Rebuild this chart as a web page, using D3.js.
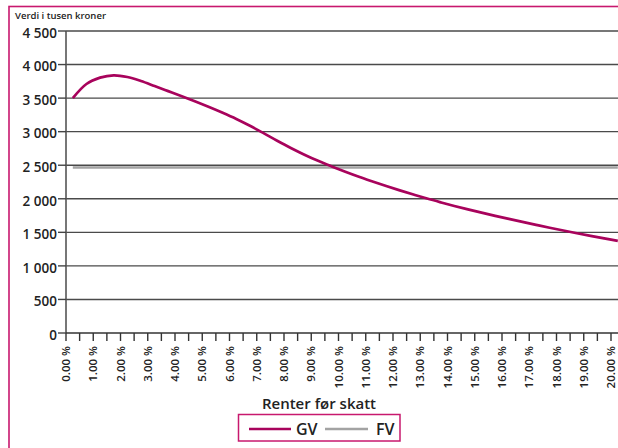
<!DOCTYPE html>
<html>
<head>
<meta charset="utf-8">
<script src="https://cdn.jsdelivr.net/npm/d3@7"></script>
<style>
  html, body { margin: 0; padding: 0; background: #fff; }
  svg { display: block; }
  text { font-family: "Open Sans", "DejaVu Sans", sans-serif; fill: #222; }
</style>
</head>
<body>
<svg id="chart" width="618" height="448"></svg>
<script>
// Interest rate before tax (%), one category per half percent
const rates = d3.range(0, 41).map(i => i * 0.5);

// Value in thousand NOK for each rate
const gvValues = [
  3500, 3710, 3805, 3840, 3815, 3755, 3680, 3604, 3528, 3450,
  3368, 3282, 3190, 3088, 2978, 2865, 2757, 2657, 2565, 2482,
  2403, 2328, 2258, 2190, 2125, 2063, 2003, 1947, 1893, 1842,
  1793, 1746, 1700, 1655, 1611, 1568, 1527, 1487, 1448, 1410,
  1373
];
const fvValues = rates.map(() => 2465);

const yTicks = [0, 500, 1000, 1500, 2000, 2500, 3000, 3500, 4000, 4500];

const seriesNames = ["GV", "FV"];
const seriesColors = ["#a8035c", "#a3a3a3"];

const svg = d3.select("#chart");

const magenta = "#c8186e";
const gridColor = "#4a4a4a";

// outer frame
svg.append("rect")
  .attr("x", 9).attr("y", 6.5)
  .attr("width", 640).attr("height", 480)
  .attr("fill", "none")
  .attr("stroke", magenta)
  .attr("stroke-width", 1.6);

const plotLeft = 66, plotRight = 618, plotTop = 31, plotBottom = 333;

const x = d3.scaleBand()
  .domain(rates)
  .range([plotLeft, plotLeft + rates.length * 13.625])
  .paddingInner(0).paddingOuter(0);

const y = d3.scaleLinear().domain([0, 4500]).range([plotBottom, plotTop]);

const fmt = d3.formatLocale({ decimal: ".", thousands: " ", grouping: [3], currency: ["", ""] }).format(",d");

// horizontal grid
svg.append("g")
  .selectAll("line")
  .data(yTicks.filter(d => d > 0))
  .join("line")
  .attr("x1", plotLeft).attr("x2", plotRight)
  .attr("y1", d => y(d)).attr("y2", d => y(d))
  .attr("stroke", gridColor)
  .attr("stroke-width", 1.4);

// series lines, points centred in their category
const line = d3.line()
  .x((d, i) => x(rates[i]) + x.bandwidth() / 2)
  .y(d => y(d))
  .curve(d3.curveCatmullRom.alpha(0.5));

svg.append("clipPath").attr("id", "plotclip")
  .append("rect").attr("x", plotLeft).attr("y", 0)
  .attr("width", plotRight - plotLeft).attr("height", plotBottom);

svg.append("path")
  .datum(fvValues)
  .attr("d", line)
  .attr("fill", "none")
  .attr("stroke", seriesColors[1])
  .attr("stroke-width", 2.4)
  .attr("clip-path", "url(#plotclip)");

svg.append("path")
  .datum(gvValues)
  .attr("d", line)
  .attr("fill", "none")
  .attr("stroke", seriesColors[0])
  .attr("stroke-width", 2.7)
  .attr("clip-path", "url(#plotclip)");

// y axis
svg.append("line")
  .attr("x1", plotLeft).attr("x2", plotLeft)
  .attr("y1", plotTop).attr("y2", plotBottom)
  .attr("stroke", "#555").attr("stroke-width", 1.6);

const yAxis = svg.append("g");
yAxis.selectAll("line")
  .data(yTicks)
  .join("line")
  .attr("x1", plotLeft - 8).attr("x2", plotLeft)
  .attr("y1", d => y(d)).attr("y2", d => y(d))
  .attr("stroke", "#444").attr("stroke-width", 1.4);
yAxis.selectAll("text")
  .data(yTicks)
  .join("text")
  .attr("x", 57)
  .attr("y", d => y(d) + 2)
  .attr("dy", "0.35em")
  .attr("text-anchor", "end")
  .attr("font-size", 13.5)
  .attr("font-weight", 600)
  .text(d => fmt(d));

// x axis
svg.append("line")
  .attr("x1", plotLeft).attr("x2", plotRight)
  .attr("y1", plotBottom).attr("y2", plotBottom)
  .attr("stroke", "#333").attr("stroke-width", 1.6);

const xAxis = svg.append("g");
xAxis.selectAll("line")
  .data(rates)
  .join("line")
  .attr("x1", d => x(d)).attr("x2", d => x(d))
  .attr("y1", plotBottom).attr("y2", plotBottom + 8)
  .attr("stroke", "#333").attr("stroke-width", 1.4);
xAxis.selectAll("text")
  .data(rates.filter(r => Number.isInteger(r)))
  .join("text")
  .attr("transform", d => `translate(${x(d)},346) rotate(-90)`)
  .attr("dy", "0.35em")
  .attr("text-anchor", "end")
  .attr("font-size", 11.5)
  .attr("font-weight", 600)
  .text(d => d.toFixed(2) + " %");

// titles
svg.append("text")
  .attr("x", 15).attr("y", 19)
  .attr("font-size", 9.5)
  .attr("font-weight", 600)
  .text("Verdi i tusen kroner");

svg.append("text")
  .attr("x", 319).attr("y", 409)
  .attr("text-anchor", "middle")
  .attr("font-size", 15)
  .attr("font-weight", 600)
  .text("Renter før skatt");

// legend
const legend = svg.append("g");
legend.append("rect")
  .attr("x", 238.5).attr("y", 414.5)
  .attr("width", 161.5).attr("height", 26.5)
  .attr("fill", "#fff")
  .attr("stroke", magenta).attr("stroke-width", 1.5);

const legendItems = [
  { x1: 249, x2: 291, tx: 296 },
  { x1: 325, x2: 368, tx: 376 }
];
legendItems.forEach((it, i) => {
  legend.append("line")
    .attr("x1", it.x1).attr("x2", it.x2)
    .attr("y1", 429).attr("y2", 429)
    .attr("stroke", seriesColors[i]).attr("stroke-width", 2.7);
  legend.append("text")
    .attr("x", it.tx).attr("y", 429)
    .attr("dy", "0.36em")
    .attr("font-size", 16)
    .attr("font-weight", 600)
    .text(seriesNames[i]);
});
</script>
</body>
</html>
